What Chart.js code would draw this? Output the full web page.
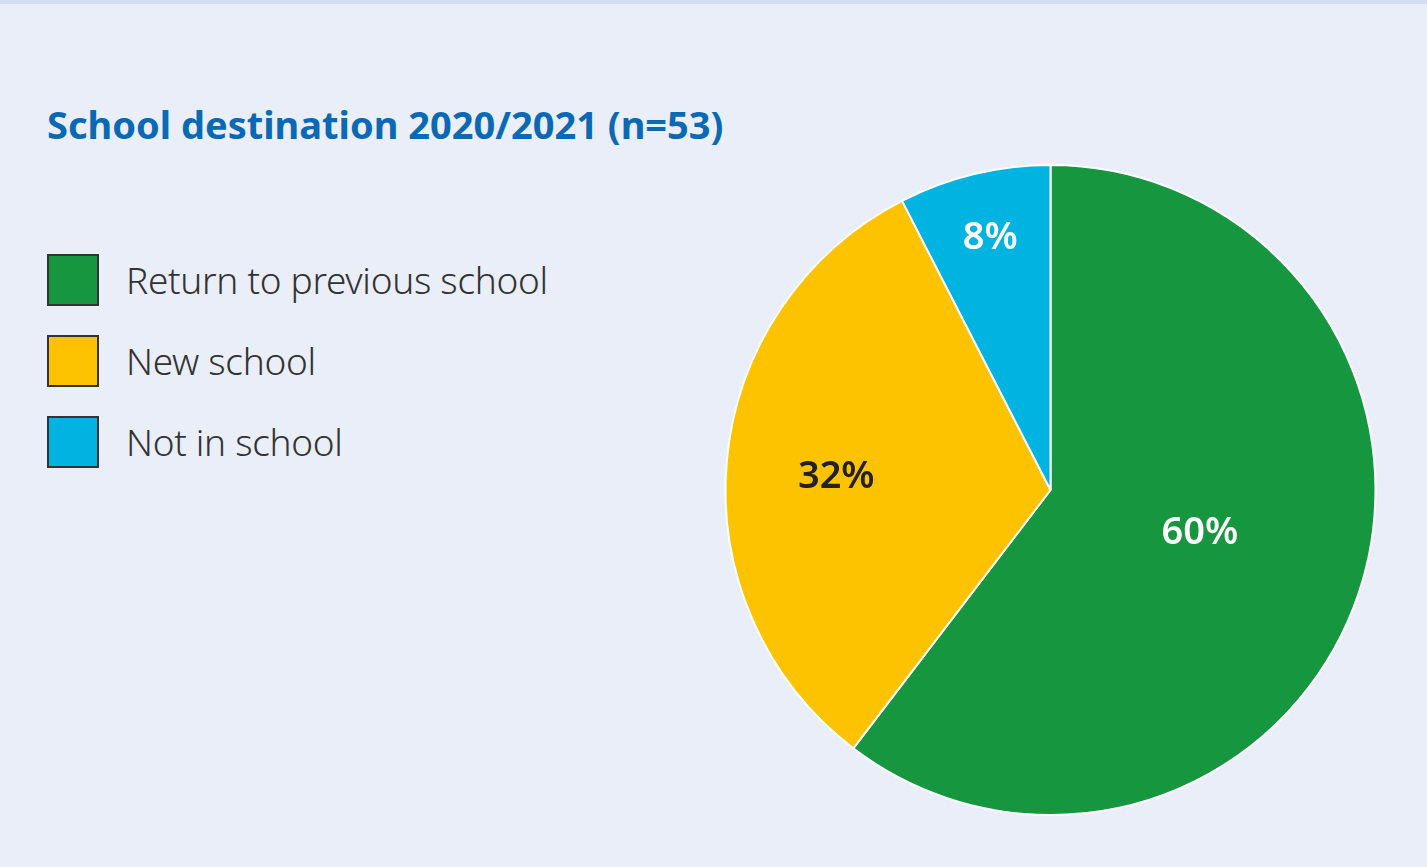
<!DOCTYPE html>
<html>
<head>
<meta charset="utf-8">
<script src="https://cdn.jsdelivr.net/npm/chart.js@4"></script>
<style>
  html, body { margin: 0; padding: 0; }
  body { width: 1427px; height: 867px; background: #e9eef8; position: relative; overflow: hidden; font-family: "Noto Sans", sans-serif; }
  .topbar { position: absolute; left: 0; top: 0; width: 1427px; height: 4px; background: #d2def1; }
  #title { position: absolute; left: 47px; top: 98px; margin: 0; font-size: 38px; font-weight: 700; color: #0a69b4; letter-spacing: 0; white-space: nowrap; }
  #legend { position: absolute; left: 47px; top: 254px; margin: 0; padding: 0; list-style: none; }
  #legend li { height: 51px; margin-bottom: 30px; display: flex; align-items: center; }
  #legend .box { width: 48px; height: 48px; border: 2px solid #333; margin-right: 27px; flex: none; }
  #legend .txt { font-size: 37px; color: #333; font-weight: 300; white-space: nowrap; letter-spacing: -0.3px; }
  #wrap { position: absolute; left: 0; top: 0; width: 1427px; height: 867px; }
</style>
</head>
<body>
<div class="topbar"></div>
<h1 id="title">School destination 2020/2021 (n=53)</h1>
<ul id="legend"></ul>
<div id="wrap"><canvas id="myChart"></canvas></div>
<script>
var labels = ["Return to previous school", "New school", "Not in school"];
var counts = [32, 17, 4];
var colors = ["#16963e", "#fdc300", "#00b3e1"];
var labelColors = ["#ffffff", "#222222", "#ffffff"];

// legend built from the same arrays
var ul = document.getElementById('legend');
labels.forEach(function(l, i){
    var li = document.createElement('li');
    li.innerHTML = '<span class="box" style="background:' + colors[i] + '"></span><span class="txt">' + l + '</span>';
    ul.appendChild(li);
});

// percent labels inside the slices
var pctLabels = {
    id: 'pctLabels',
    afterDatasetsDraw: function(chart, args, opts){
        var ctx = chart.ctx;
        var data = chart.data.datasets[0].data;
        var total = data.reduce(function(a, b){ return a + b; }, 0);
        chart.getDatasetMeta(0).data.forEach(function(arc, i){
            var p = arc.getProps(['x', 'y', 'startAngle', 'endAngle', 'outerRadius'], true);
            var mid = (p.startAngle + p.endAngle) / 2 + opts.turn[i];
            var r = p.outerRadius * opts.radial[i];
            ctx.save();
            ctx.font = '600 38px "Noto Sans", sans-serif';
            ctx.fillStyle = labelColors[i];
            ctx.textAlign = 'center';
            ctx.textBaseline = 'middle';
            ctx.fillText(Math.round(data[i] / total * 100) + '%', p.x + Math.cos(mid) * r, p.y + Math.sin(mid) * r - 2);
            ctx.restore();
        });
    }
};

var ctx = document.getElementById('myChart');
var mChart = new Chart(ctx, {
    type: 'pie',
    data: {
        labels: labels,
        datasets: [{
            data: counts,
            backgroundColor: colors,
            borderColor: '#ffffff',
            borderWidth: 2
        }]
    },
    options: {
        responsive: true,
        maintainAspectRatio: false,
        animation: false,
        devicePixelRatio: 1,
        layout: { padding: { left: 724, right: 50, top: 164, bottom: 51 } },
        plugins: {
            legend: { display: false },
            tooltip: { enabled: false },
            pctLabels: { radial: [0.48, 0.66, 0.79], turn: [-0.035, -0.04, 0] }
        }
    },
    plugins: [pctLabels]
});
</script>
</body>
</html>
